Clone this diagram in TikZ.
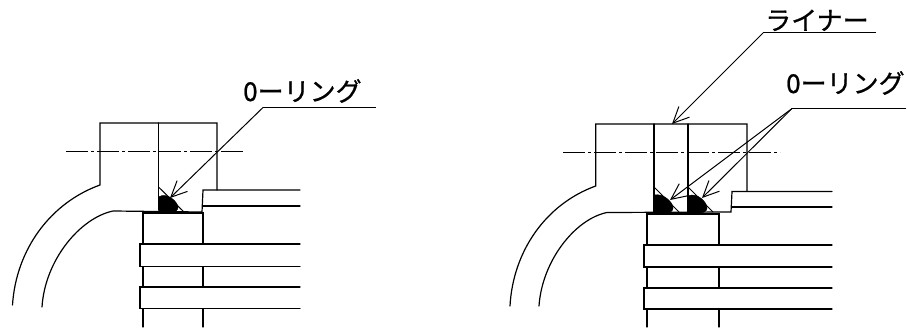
\documentclass[tikz,border=0pt]{standalone}
\usepackage{fontspec}
\newfontfamily\cjk{Noto Sans CJK JP}[FakeBold=0.8]
\usetikzlibrary{arrows.meta}
\tikzset{
  x=1pt,y=-1pt,
  part/.style={line width=1.2pt,black,line cap=round,line join=miter},
  thin part/.style={line width=1pt,black},
  centre line/.style={line width=0.9pt,black,dash pattern=on 22pt off 3pt on 3pt off 3pt},
  leader/.style={line width=1pt,black},
  callout/.style={leader,-{Straight Barb[length=16pt,width=15pt,line width=1pt]}},
  label text/.style={font=\cjk\fontsize{26}{26}\selectfont,inner sep=0pt,anchor=base west,black},
  ring/.style={fill=black,draw=black,line width=0.5pt},
}
\begin{document}
\begin{tikzpicture}
\useasboundingbox (0,0) rectangle (907,329);
\fill[white] (0,0) rectangle (907,329);
% ---------- left drawing ----------
\draw[part] (12.5,305) .. controls (16,250) and (50,203) .. (100,185) -- (100,123) -- (217,123) -- (217,190);
\draw[part] (158.5,123) -- (158.5,210);
\draw[part] (42,307) .. controls (45,260) and (80,218) .. (113,211) -- (202,212) -- (203,190) -- (300,190);
\draw[part] (203,206) -- (300,206);
\draw[part] (143,327) -- (143,213) -- (203,213) -- (203,327);
\fill[white] (141,244) rectangle (300,266) (140,287) rectangle (300,308.5);
\draw[part] (300,244) -- (140,244) -- (140,266.5) -- (300,266.5);
\draw[part] (300,287) -- (140,287) -- (140,308.5) -- (300,308.5);
\draw[centre line] (66,151) -- (245,151);
\draw[thin part] (158.5,187) -- (184,212);
\draw[ring] (158.5,197) .. controls (167,192) and (177,201) .. (178,207) .. controls (178,210) and (175,213) .. (170,213) -- (159,213) -- cycle;
\node[label text] (ringA) at (243,101) {0ーリング};
\coordinate (ringAend) at (376,107.5);
\coordinate (ringAknee) at (263,107.5);
\coordinate (ringAtip) at (170,198);
\draw[leader] (ringAend) -- (ringAknee);
\draw[callout] (ringAknee) -- (ringAtip);
% ---------- right drawing ----------
\draw[part] (510,306) .. controls (513,251) and (546,204) .. (595.7,186) -- (595.7,124) -- (747,124) -- (747,191.5);
\draw[part] (654,124) -- (654,212);
\draw[part] (688,124) -- (688,212);
\draw[part] (539,306) .. controls (542,261) and (575,219) .. (607,212.5) -- (731,212) -- (732,191.5) -- (832,191.5);
\draw[part] (732,207) -- (832,207);
\draw[part] (647,327) -- (647,214) -- (719,214) -- (719,327);
\fill[white] (645,245) rectangle (832,267) (644,288) rectangle (832,309);
\draw[part] (832,245) -- (644,245) -- (644,267) -- (832,267);
\draw[part] (832,288) -- (644,288) -- (644,309) -- (832,309);
\draw[centre line] (563,152.5) -- (780,152.5);
\draw[thin part] (654,187) -- (679,212) (688,187) -- (713,212);
\draw[ring] (654,195) .. controls (663,193) and (673,202) .. (673,208) .. controls (673,211) and (670,213) .. (665,213) -- (655,213) -- cycle;
\draw[ring] (688,196) .. controls (697,192) and (707,202) .. (707,208) .. controls (707,211) and (704,213) .. (699,213) -- (689,213) -- cycle;
\node[label text] (liner) at (765,30) {ライナー};
\node[label text] (ringB) at (786,93) {0ーリング};
\coordinate (linerEnd) at (876,33);
\coordinate (linerKnee) at (763,33);
\coordinate (linerTip) at (672,124);
\coordinate (ringBend) at (906,108.5);
\coordinate (ringBknee) at (792,108.5);
\coordinate (ringBtipA) at (670,200);
\coordinate (ringBtipB) at (702,198);
\draw[leader] (linerEnd) -- (linerKnee);
\draw[callout] (linerKnee) -- (linerTip);
\draw[leader] (ringBend) -- (ringBknee);
\draw[callout] (ringBknee) -- (ringBtipA);
\draw[callout] (ringBknee) -- (ringBtipB);
\end{tikzpicture}
\end{document}
